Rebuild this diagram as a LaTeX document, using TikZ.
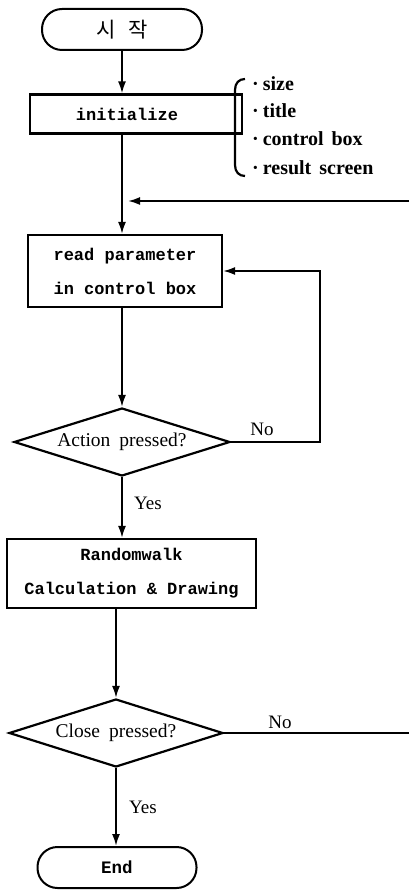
\documentclass[tikz,border=0pt]{standalone}
\usepackage{fontspec}
\setmainfont{Liberation Serif}
\setmonofont{Liberation Mono}
\newfontfamily\krfont{Noto Sans CJK KR}
\usetikzlibrary{arrows.meta,shapes.geometric}
\begin{document}
\begin{tikzpicture}[x=1pt,y=-1pt,
  box/.style={draw,line width=2.2pt,inner sep=0pt,align=center,
    font=\ttfamily\bfseries\fontsize{17}{34}\selectfont},
  term/.style={draw,line width=2pt,rounded corners=20pt,inner sep=0pt},
  dec/.style={draw,diamond,shape aspect=3.2,line width=2.2pt,inner sep=0pt,
    font=\fontsize{19.5}{22}\selectfont},
  arr/.style={line width=1.9pt,-{Latex[length=12pt,width=8pt]}},
  ln/.style={line width=1.9pt},
  lbl/.style={font=\fontsize{19}{22}\selectfont},
  bul/.style={anchor=west,inner sep=0pt,font=\bfseries\fontsize{20}{22}\selectfont}]
\useasboundingbox (0,0) rectangle (409,890);

% nodes
\node[term,minimum width=160pt,minimum height=41pt,
  font=\krfont\fontsize{21}{24}\selectfont] (start) at (122,29.5) {시\hspace{13pt}작};
\node[box,minimum width=212pt,minimum height=39pt] (init) at (136,114) {initialize\hspace{18pt}};
\node[box,minimum width=194pt,minimum height=72pt] (read) at (125,271) {read parameter\\in control box};
\node[dec,minimum width=216pt,minimum height=68pt] (d1) at (122,442) {Action\hspace{9pt}pressed?};
\node[box,minimum width=249pt,minimum height=69pt] (rw) at (131.5,573.5) {Randomwalk\\Calculation \& Drawing};
\node[dec,minimum width=214pt,minimum height=68pt] (d2) at (116,733) {Close\hspace{9pt}pressed?};
\node[term,minimum width=159pt,minimum height=41pt,
  font=\ttfamily\bfseries\fontsize{17.5}{20}\selectfont] (end) at (117,867.5) {End};

% bracket annotation
\draw[line width=2.2pt] (245,79) .. controls (239,79) and (235,83) .. (235,90)
  -- (235,165) .. controls (235,172) and (239,176) .. (245,176);
\node[bul] (b1) at (252,84) {·\hspace{4pt}size};
\node[bul] (b2) at (252,111) {·\hspace{4pt}title};
\node[bul] (b3) at (252,139) {·\hspace{4pt}control\hspace{8pt}box};
\node[bul] (b4) at (252,168) {·\hspace{4pt}result\hspace{8pt}screen};

% coordinates
\coordinate (j) at (122,201);
\coordinate (jt) at (128,201);
\coordinate (fb) at (409,201);
\coordinate (c1) at (320,271);
\coordinate (c2) at (409,733);

% connectors
\draw[arr] (start.south) -- (start.south |- init.north);
\draw[ln] (start.south |- init.south) -- (j);
\draw[arr] (j) -- (j |- read.north);
\draw[arr] (fb) -- (jt);
\draw[arr] (j |- read.south) -- (d1.north);
\draw[arr] (d1.east) -| (c1) -- (read.east);
\draw[arr] (d1.south) -- (d1.south |- rw.north);
\draw[arr] (rw.south -| d2.north) -- (d2.north);
\draw[ln] (d2.east) -- (c2);
\draw[arr] (d2.south) -- (d2.south |- end.north);

% labels
\node[lbl] (no1) at (262,429) {No};
\node[lbl] (yes1) at (148,503) {Yes};
\node[lbl] (no2) at (280,722) {No};
\node[lbl] (yes2) at (143,807) {Yes};
\end{tikzpicture}
\end{document}
